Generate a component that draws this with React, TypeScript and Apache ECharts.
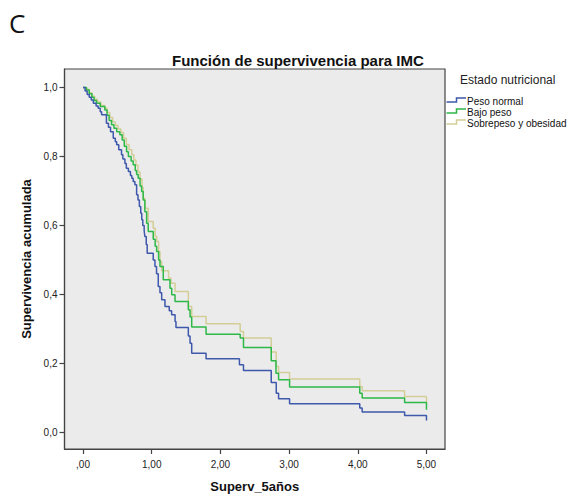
import React, { useEffect, useRef } from "react";
import * as echarts from "echarts";

const seriesNames = ["Peso normal", "Bajo peso", "Sobrepeso y obesidad"];
const seriesColors = ["#3E58AC", "#2EB848", "#D3CE97"];

const xTicks = [0, 1, 2, 3, 4, 5];
const yTicks = [0, 0.2, 0.4, 0.6, 0.8, 1.0];

const pesoNormal: number[][] = [
  [0, 1.0], [0.03, 0.99], [0.06, 0.98], [0.09, 0.972], [0.12, 0.964], [0.15, 0.955],
  [0.19, 0.947], [0.22, 0.94], [0.25, 0.93], [0.27, 0.921], [0.34, 0.897], [0.37, 0.885],
  [0.4, 0.872], [0.44, 0.853], [0.47, 0.843], [0.49, 0.834], [0.52, 0.82], [0.56, 0.805],
  [0.58, 0.793], [0.61, 0.78], [0.63, 0.766], [0.66, 0.757], [0.69, 0.745], [0.71, 0.737],
  [0.73, 0.728], [0.755, 0.718], [0.78, 0.689], [0.8, 0.674], [0.82, 0.655], [0.84, 0.636],
  [0.855, 0.617], [0.87, 0.6], [0.89, 0.585], [0.9, 0.568], [0.92, 0.545], [0.934, 0.52],
  [1.022, 0.5], [1.047, 0.481], [1.07, 0.46], [1.095, 0.423], [1.12, 0.405], [1.145, 0.385],
  [1.193, 0.365], [1.255, 0.353], [1.29, 0.341], [1.34, 0.322], [1.353, 0.304], [1.533, 0.28],
  [1.558, 0.259], [1.582, 0.23], [1.791, 0.214], [2.277, 0.196], [2.336, 0.18], [2.74, 0.145],
  [2.813, 0.114], [2.847, 0.098], [3.007, 0.083], [4.029, 0.071], [4.064, 0.059], [4.682, 0.049],
  [5.0, 0.035],
];

const bajoPeso: number[][] = [
  [0, 1.0], [0.05, 0.993], [0.09, 0.982], [0.13, 0.972], [0.16, 0.963], [0.196, 0.955],
  [0.25, 0.945], [0.317, 0.935], [0.35, 0.92], [0.38, 0.905], [0.415, 0.892], [0.45, 0.882],
  [0.49, 0.872], [0.536, 0.863], [0.57, 0.848], [0.6, 0.83], [0.634, 0.814], [0.66, 0.8],
  [0.7, 0.787], [0.73, 0.776], [0.76, 0.76], [0.78, 0.748], [0.803, 0.737], [0.83, 0.715],
  [0.853, 0.699], [0.876, 0.674], [0.9, 0.64], [0.926, 0.607], [0.949, 0.583], [1.022, 0.56],
  [1.05, 0.54], [1.072, 0.525], [1.1, 0.5], [1.12, 0.481], [1.168, 0.443], [1.266, 0.418],
  [1.291, 0.399], [1.339, 0.38], [1.533, 0.356], [1.558, 0.335], [1.582, 0.306], [1.791, 0.285],
  [2.288, 0.274], [2.336, 0.246], [2.74, 0.208], [2.809, 0.172], [2.847, 0.153], [3.007, 0.132],
  [4.029, 0.114], [4.064, 0.1], [4.682, 0.087], [5.0, 0.066],
];

const sobrepeso: number[][] = [
  [0, 1.0], [0.05, 0.995], [0.09, 0.985], [0.13, 0.975], [0.17, 0.966], [0.21, 0.958],
  [0.26, 0.948], [0.317, 0.94], [0.35, 0.928], [0.39, 0.913], [0.43, 0.9], [0.47, 0.89],
  [0.51, 0.88], [0.55, 0.87], [0.59, 0.853], [0.63, 0.835], [0.67, 0.82], [0.71, 0.805],
  [0.74, 0.79], [0.77, 0.775], [0.8, 0.755], [0.83, 0.735], [0.86, 0.71], [0.876, 0.679],
  [0.9, 0.65], [0.949, 0.612], [1.022, 0.592], [1.05, 0.568], [1.072, 0.554], [1.1, 0.525],
  [1.12, 0.496], [1.145, 0.469], [1.245, 0.448], [1.28, 0.433], [1.34, 0.409], [1.533, 0.365],
  [1.582, 0.336], [1.791, 0.315], [2.288, 0.293], [2.336, 0.274], [2.74, 0.233], [2.813, 0.191],
  [2.847, 0.174], [3.007, 0.155], [4.029, 0.133], [4.064, 0.121], [4.682, 0.104], [5.0, 0.085],
];

const seriesData = [pesoNormal, bajoPeso, sobrepeso];

const FONT = "'Liberation Sans', Arial, sans-serif";

export default function App() {
  const ref = useRef<HTMLDivElement>(null);

  useEffect(() => {
    if (!ref.current) return;
    const chart = echarts.init(ref.current, null, { renderer: "svg" });

    const legendGraphics: any[] = [
      {
        type: "text",
        left: 460,
        top: 74,
        style: { text: "Estado nutricional", fill: "#222", font: `12px ${FONT}` },
      },
    ];
    seriesNames.forEach((name, i) => {
      const cy = 101.5 + i * 11;
      legendGraphics.push({
        type: "polyline",
        shape: {
          points: [
            [446.5, cy + 0.5],
            [456.5, cy + 0.5],
            [456.5, cy - 3.5],
            [466, cy - 3.5],
          ],
        },
        style: { stroke: seriesColors[i], lineWidth: 1.5, fill: null },
      });
      legendGraphics.push({
        type: "text",
        x: 467,
        y: cy,
        style: {
          text: name,
          fill: "#111",
          font: `10px ${FONT}`,
          textVerticalAlign: "middle",
        },
      });
    });

    chart.setOption({
      animation: false,
      backgroundColor: "#ffffff",
      title: {
        text: "Función de supervivencia para IMC",
        left: 167,
        top: 48,
        textStyle: { fontFamily: FONT, fontSize: 15, fontWeight: "bold", color: "#111" },
      },
      grid: {
        left: 64.5,
        top: 69,
        right: 123,
        bottom: 47,
        outerBoundsMode: "none",
        containLabel: false,
        show: true,
        backgroundColor: "#EBEBEB",
        borderColor: "#444",
        borderWidth: 1.2,
      },
      xAxis: {
        type: "value",
        min: -0.27,
        max: 5.27,
        name: "Superv_5años",
        nameLocation: "middle",
        nameGap: 31,
        nameTextStyle: { fontFamily: FONT, fontSize: 13, fontWeight: "bold", color: "#111" },
        splitLine: { show: false },
        axisLine: { show: true, onZero: false, lineStyle: { color: "#444", width: 1.2 } },
        axisTick: {
          show: true,
          length: 5,
          customValues: xTicks,
          lineStyle: { color: "#444", width: 1.2 },
        },
        axisLabel: {
          customValues: xTicks,
          margin: 10,
          fontFamily: FONT,
          fontSize: 10,
          color: "#222",
          formatter: (v: number) => (v === 0 ? ",00" : v.toFixed(2).replace(".", ",")),
        },
      },
      yAxis: {
        type: "value",
        min: -0.048,
        max: 1.054,
        name: "Supervivencia acumulada",
        nameLocation: "middle",
        nameGap: 22,
        nameTextStyle: { fontFamily: FONT, fontSize: 13, fontWeight: "bold", color: "#111" },
        splitLine: { show: false },
        axisLine: { show: true, onZero: false, lineStyle: { color: "#444", width: 1.2 } },
        axisTick: {
          show: true,
          length: 5,
          customValues: yTicks,
          lineStyle: { color: "#444", width: 1.2 },
        },
        axisLabel: {
          customValues: yTicks,
          margin: 7,
          fontFamily: FONT,
          fontSize: 10,
          color: "#222",
          formatter: (v: number) => v.toFixed(1).replace(".", ","),
        },
      },
      series: seriesData.map((d, i) => ({
        name: seriesNames[i],
        type: "line",
        step: "end",
        data: d,
        showSymbol: false,
        symbol: "none",
        lineStyle: { color: seriesColors[i], width: 1.5 },
        itemStyle: { color: seriesColors[i] },
        z: 3 - i,
      })),
      graphic: [
        {
          type: "text",
          left: 9,
          top: 10,
          style: { text: "C", fill: "#111", font: `26px 'Open Sans', sans-serif` },
        },
        ...legendGraphics,
      ],
    });

    return () => chart.dispose();
  }, []);

  return (
    <div
      ref={ref}
      style={{ position: "fixed", left: 0, top: 0, width: 568, height: 496 }}
    />
  );
}
